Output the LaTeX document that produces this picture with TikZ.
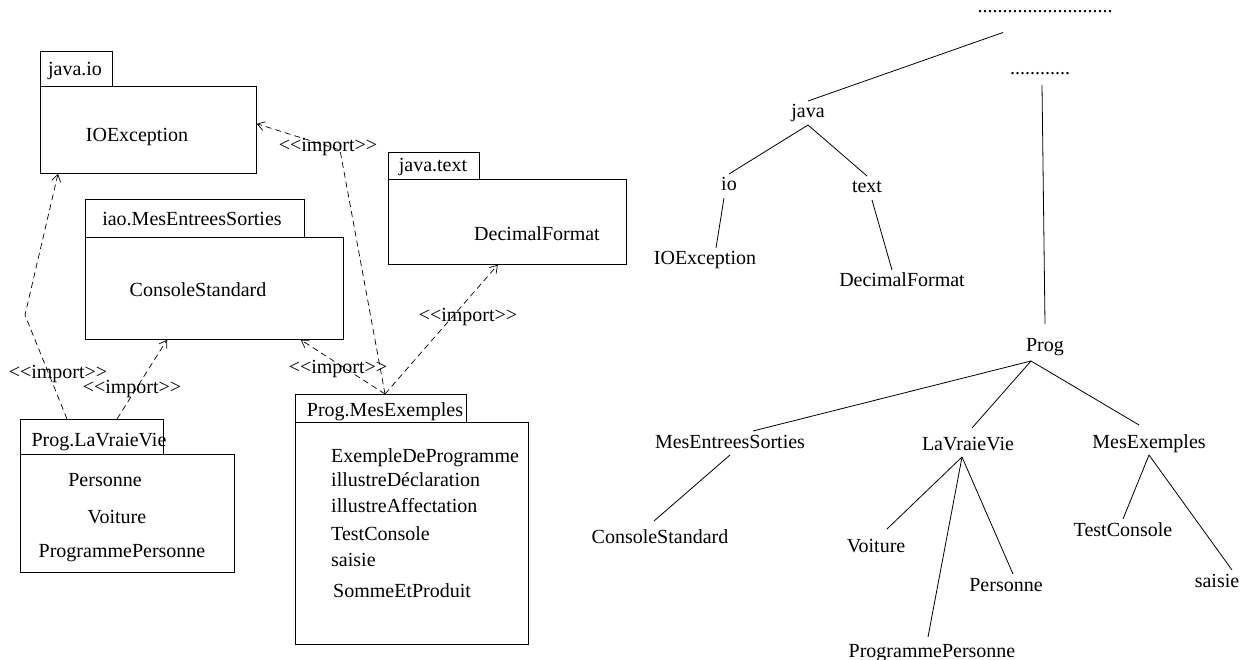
\documentclass[tikz,border=0pt]{standalone}
\usepackage{fontspec}
\setmainfont{Liberation Serif}
\usetikzlibrary{arrows.meta}
\newcommand{\imptag}{<{}<import>{}>}
\begin{document}
\begin{tikzpicture}[x=1pt,y=-1pt,
  every node/.style={font=\fontsize{20}{24}\selectfont, inner sep=0pt},
  txt/.style={anchor=base, text height=14pt, text depth=4pt, outer sep=3pt},
  item/.style={anchor=base west},
  box/.style={draw, line width=0.8pt, anchor=north west},
  imp/.style={dash pattern=on 6pt off 4pt, line width=0.7pt,
              -{Straight Barb[length=7pt,width=9pt]}},
  branch/.style={line width=0.8pt}]
\useasboundingbox (0,0) rectangle (1250,660);

% ---------- packages ----------
% java.io
\node[box, minimum width=72pt,  minimum height=35pt] (ioTab)  at (40,51) {};
\node[box, minimum width=216pt, minimum height=87pt] (ioBody) at (40,86) {};
\node[anchor=base] (ioName) at (75,76) {java.io};
\node[anchor=base] (ioCls)  at (137,142) {IOException};

% iao.MesEntreesSorties
\node[box, minimum width=219pt, minimum height=38pt]  (iaoTab)  at (85,199) {};
\node[box, minimum width=258pt, minimum height=102pt] (iaoBody) at (85,237) {};
\node[anchor=base] (iaoName) at (192,226) {iao.MesEntreesSorties};
\node[anchor=base] (iaoCls)  at (198,297) {ConsoleStandard};

% java.text
\node[box, minimum width=91pt,  minimum height=27pt] (txTab)  at (388,152) {};
\node[box, minimum width=238pt, minimum height=85pt] (txBody) at (388,179) {};
\node[anchor=base] (txName) at (433,172) {java.text};
\node[anchor=base] (txCls)  at (537,241) {DecimalFormat};

% Prog.LaVraieVie
\node[box, minimum width=143pt, minimum height=35pt]  (lvTab)  at (20,419) {};
\node[box, minimum width=214pt, minimum height=118pt] (lvBody) at (20,454) {};
\node[anchor=base] (lvName) at (99,446) {Prog.LaVraieVie};
\node[anchor=base] (lvA) at (105,486) {Personne};
\node[anchor=base] (lvB) at (117,523) {Voiture};
\node[anchor=base] (lvC) at (122,557) {ProgrammePersonne};

% Prog.MesExemples
\node[box, minimum width=171pt, minimum height=28pt]  (meTab)  at (295,394) {};
\node[box, minimum width=233pt, minimum height=222pt] (meBody) at (295,422) {};
\node[anchor=base] (meName) at (385,416) {Prog.MesExemples};
\node[item] (meA) at (331,462) {ExempleDeProgramme};
\node[item] (meB) at (331,486) {illustreDéclaration};
\node[item] (meC) at (331,512) {illustreAffectation};
\node[item] (meD) at (331,540) {TestConsole};
\node[item] (meE) at (331,566) {saisie};
\node[item] (meF) at (333,597) {SommeEtProduit};

% ---------- import dependencies ----------
\coordinate (bendA) at (25,315);
\coordinate (bendB) at (340,150);
\draw[imp] ([xshift=47]lvTab.north west) -- (bendA) -- ([xshift=18]ioBody.south west);
\draw[imp] ([xshift=97]lvTab.north west) -- ([xshift=82]iaoBody.south west);
\draw[imp] ([xshift=90]meTab.north west) -- ([xshift=-43]iaoBody.south east);
\draw[imp] ([xshift=90]meTab.north west) -- (bendB) -- ([yshift=50]ioBody.south east);
\draw[imp] ([xshift=90]meTab.north west) -- ([xshift=-129]txBody.south east);

\node[anchor=base] (impA) at (58,378)  {\imptag};
\node[anchor=base] (impB) at (132,393) {\imptag};
\node[anchor=base] (impC) at (338,373) {\imptag};
\node[anchor=base] (impD) at (328,152) {\imptag};
\node[anchor=base] (impE) at (468,322) {\imptag};

% ---------- package tree ----------
\node[anchor=base] (root)  at (1045,13) {...........................};
\node[txt] (other) at (1040,75) {............};
\node[txt] (java)  at (808,118) {java};
\node[txt] (io)    at (729,191) {io};
\node[txt] (text)  at (867,193) {text};
\node[txt] (tIOE)  at (705,265) {IOException};
\node[txt] (tDF)   at (902,287) {DecimalFormat};
\node[txt] (prog)  at (1045,351) {Prog};
\node[txt] (tMES)  at (730,448) {MesEntreesSorties};
\node[txt] (tLVV)  at (968,450) {LaVraieVie};
\node[txt] (tME)   at (1149,448) {MesExemples};
\node[txt] (tCS)   at (660,543) {ConsoleStandard};
\node[txt] (tVoit) at (876,552) {Voiture};
\node[txt] (tPP)   at (932,657) {ProgrammePersonne};
\node[txt] (tPers) at (1006,591) {Personne};
\node[txt] (tTC)   at (1123,536) {TestConsole};
\node[txt] (tSai)  at (1217,587) {saisie};

\draw[branch] ([xshift=-42,yshift=-19]root.south) -- (java.north);
\draw[branch] ([xshift=2,yshift=-3]other.south) -- ([yshift=10]prog.north);
\draw[branch] (java.south) -- (io.north);
\draw[branch] (java.south) -- (text.north);
\draw[branch] ([xshift=-5]io.south) -- ([xshift=11]tIOE.north);
\draw[branch] ([xshift=5]text.south) -- ([xshift=-10]tDF.north);
\draw[branch] ([xshift=-14,yshift=-3]prog.south) -- ([xshift=23]tMES.north);
\draw[branch] ([xshift=-14,yshift=-3]prog.south) -- ([xshift=4,yshift=5]tLVV.north);
\draw[branch] ([xshift=-14,yshift=-3]prog.south) -- ([xshift=-10,yshift=6]tME.north);
\draw[branch] (tMES.south) -- ([xshift=-6,yshift=5]tCS.north);
\draw[branch] ([xshift=-6]tLVV.south) -- ([xshift=11,yshift=6]tVoit.north);
\draw[branch] ([xshift=-6]tLVV.south) -- ([xshift=-4,yshift=3]tPP.north);
\draw[branch] ([xshift=-6]tLVV.south) -- ([xshift=7]tPers.north);
\draw[branch] (tME.south) -- (tTC.north);
\draw[branch] (tME.south) -- ([xshift=15]tSai.north);
\end{tikzpicture}
\end{document}
